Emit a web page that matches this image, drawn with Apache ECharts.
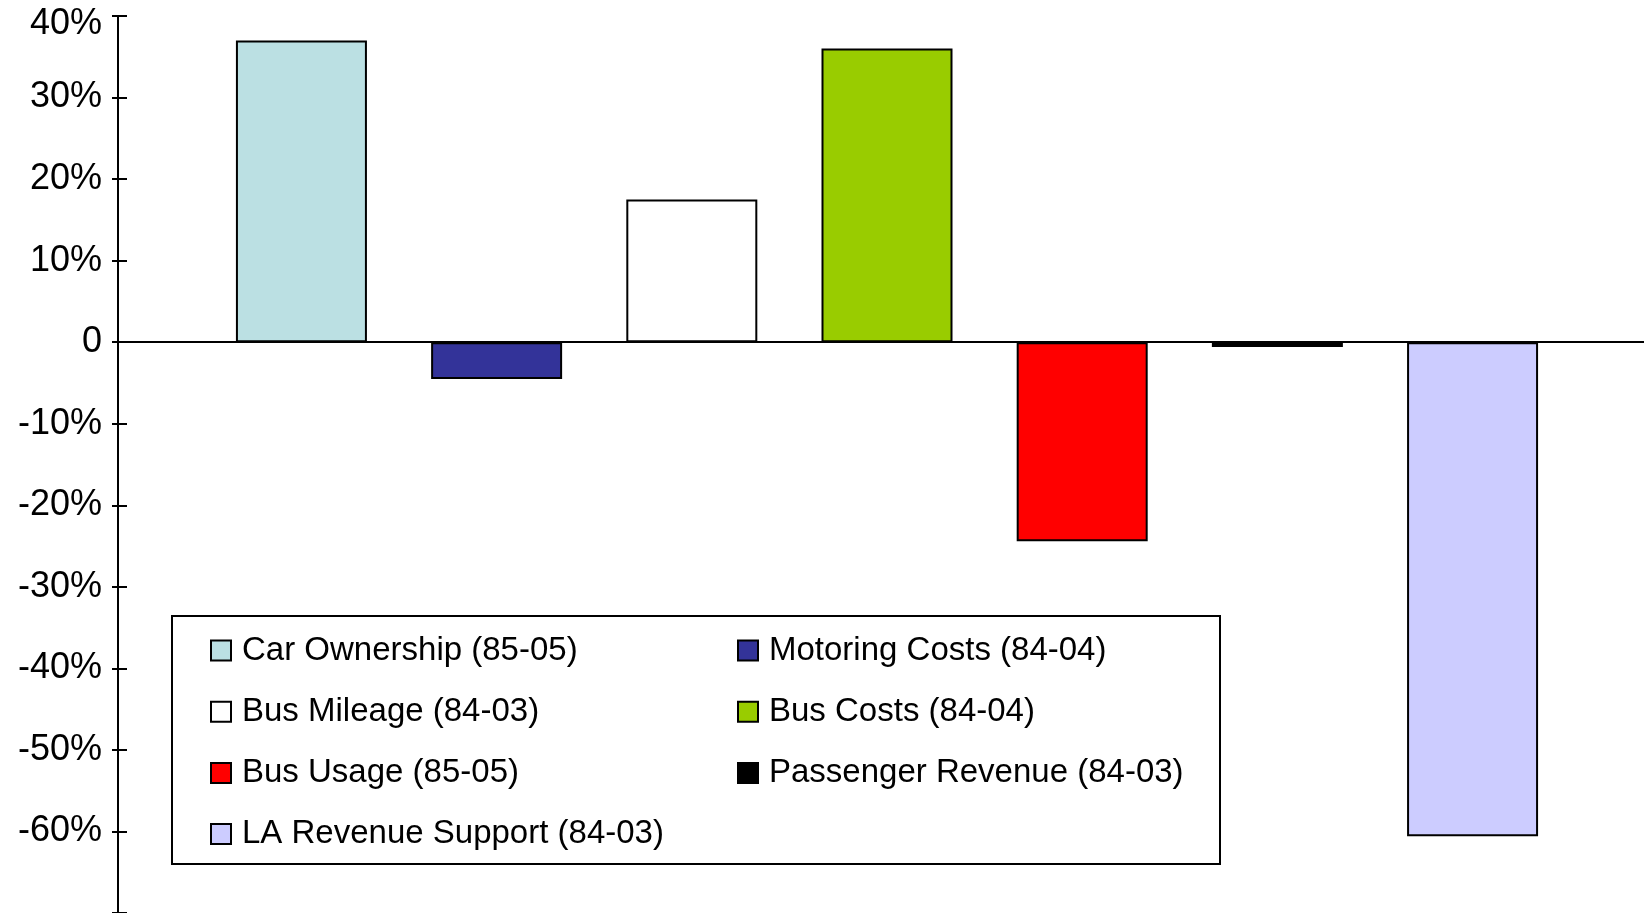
<!DOCTYPE html>
<html>
<head>
<meta charset="utf-8">
<script src="https://cdn.jsdelivr.net/npm/echarts@6/dist/echarts.min.js"></script>
<style>html,body{margin:0;padding:0;background:#fff}#c{width:1644px;height:913px}</style>
</head>
<body>
<div id="c"></div>
<script>
const seriesNames = ['Car Ownership (85-05)','Motoring Costs (84-04)','Bus Mileage (84-03)','Bus Costs (84-04)','Bus Usage (85-05)','Passenger Revenue (84-03)','LA Revenue Support (84-03)'];
const seriesValues = [37.0, -4.5, 17.5, 36.0, -24.4, -0.6, -60.6];
const seriesColors = ['#BBE0E3','#333399','#FFFFFF','#99CC00','#FF0000','#000000','#CCCCFF'];
const yTicks = {min: -70, max: 40, interval: 10};
const legendCol1 = [seriesNames[0], seriesNames[2], seriesNames[4], seriesNames[6]];
const legendCol2 = [seriesNames[1], seriesNames[3], seriesNames[5]];

const FONT = 'Liberation Sans, Arial, sans-serif';
const chart = echarts.init(document.getElementById('c'));
const legendCommon = {
  orient: 'vertical', top: 634, padding: 0,
  itemWidth: 20, itemHeight: 20, itemGap: 28.2, icon: 'rect',
  selectedMode: false,
  textStyle: {fontFamily: FONT, fontSize: 33, color: '#000', lineHeight: 20, padding: [0,0,0,6]}
};
chart.setOption({
  animation: false,
  backgroundColor: '#fff',
  grid: {left: 118, width: 1538, top: 16, bottom: 0, containLabel: false, outerBoundsMode: 'none'},
  graphic: [{type: 'rect', z: 0, shape: {x: 172, y: 616, width: 1048, height: 248},
    style: {fill: '#fff', stroke: '#000', lineWidth: 2}}],
  legend: [
    Object.assign({}, legendCommon, {left: 210, data: legendCol1}),
    Object.assign({}, legendCommon, {left: 737, data: legendCol2})
  ],
  xAxis: {type: 'category', data: [''], axisTick: {show: false}, axisLabel: {show: false},
    axisLine: {onZero: true, lineStyle: {color: '#000', width: 2}}},
  yAxis: [
    {type: 'value', min: yTicks.min, max: yTicks.max, interval: yTicks.interval, position: 'left',
      splitLine: {show: false},
      axisLine: {show: true, lineStyle: {color: '#000', width: 2}},
      axisTick: {show: true, length: 6, lineStyle: {color: '#000', width: 2}},
      axisLabel: {margin: 16, fontFamily: FONT, fontSize: 36, color: '#000',
        rich: {t: {fontFamily: FONT, fontSize: 36, color: '#000', padding: [16, 0, 0, 0]}},
        formatter: v => v === yTicks.min ? '' : (v === yTicks.max ? '{t|' + v + '%}' : (v === 0 ? '0' : v + '%'))}},
    {type: 'value', min: yTicks.min, max: yTicks.max, interval: yTicks.interval, position: 'left',
      splitLine: {show: false}, axisLine: {show: false}, axisLabel: {show: false},
      axisTick: {show: true, inside: true, length: 9, lineStyle: {color: '#000', width: 2}}}
  ],
  series: seriesNames.map((n, i) => ({
    name: n, type: 'bar', yAxisIndex: 0, barWidth: 131, barGap: '49%',
    data: [seriesValues[i]],
    itemStyle: {color: seriesColors[i], borderColor: '#000', borderWidth: 2}
  }))
});
</script>
</body>
</html>
